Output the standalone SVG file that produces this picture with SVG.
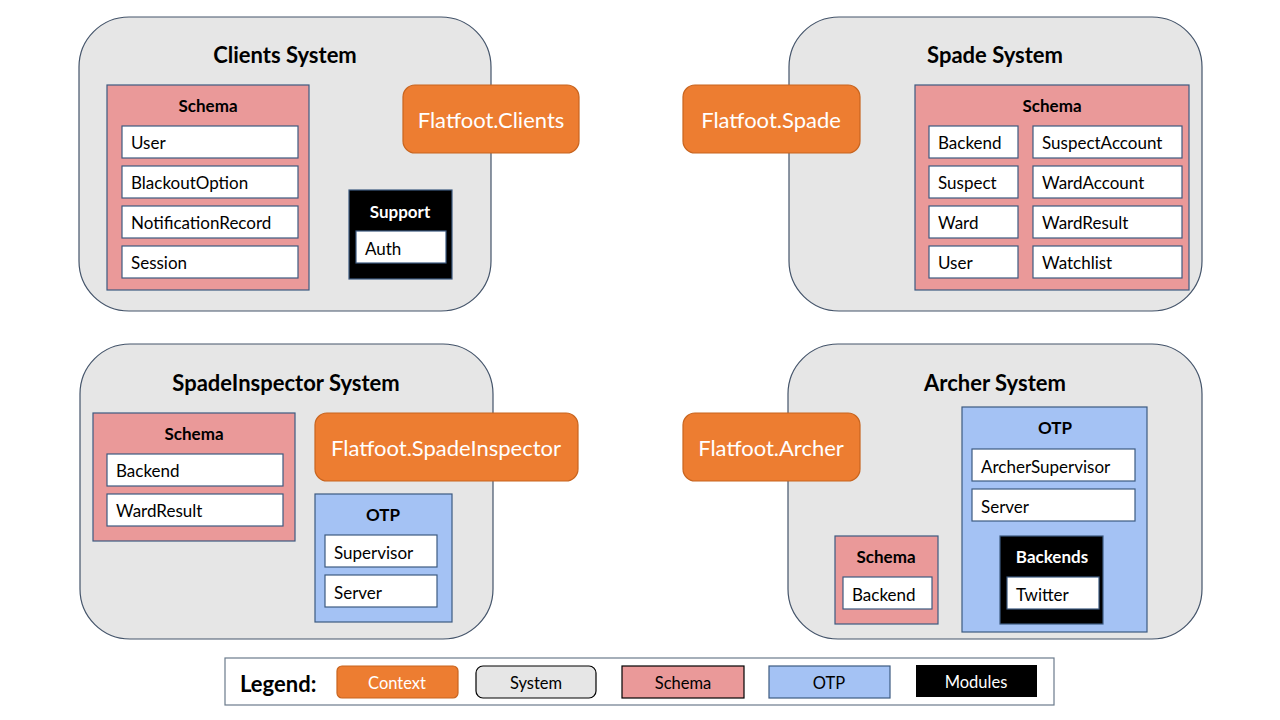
<svg xmlns="http://www.w3.org/2000/svg" width="1280" height="720" viewBox="0 0 1280 720">
<style>
text{font-family:Lato,"Open Sans","Liberation Sans",sans-serif;fill:#000}
.sys{fill:#e6e6e6;stroke:#44546a;stroke-width:1.2}
.ctx{fill:#ed7d31;stroke:#c8641e;stroke-width:1.2}
.sch{fill:#ea9999;stroke:#3d5a80;stroke-width:1.2}
.otp{fill:#a4c2f4;stroke:#3d5a80;stroke-width:1.2}
.mod{fill:#000;stroke:#3d5a80;stroke-width:1.2}
.item{fill:#fff;stroke:#3d5a80;stroke-width:1.2}
.title{font-size:22px;font-weight:bold;text-anchor:middle}
.hdr{font-size:17px;font-weight:bold;text-anchor:middle}
.hdrw{font-size:17px;font-weight:bold;text-anchor:middle;fill:#fff}
.it{font-size:17px}
.ctxt{font-size:22px;fill:#fff;text-anchor:middle}
.lg{font-size:16.5px;text-anchor:middle}
</style>
<rect width="1280" height="720" fill="#fff"/>

<g id="clients-system">
<rect class="sys" x="79" y="17" width="412" height="294" rx="50"/>
<text class="title" x="285" y="63">Clients System</text>
<g id="clients-schema">
<rect class="sch" x="107" y="85" width="202" height="205"/>
<text class="hdr" x="208" y="112">Schema</text>
<rect class="item" x="122" y="126" width="176" height="32"/><text class="it" x="131" y="149">User</text>
<rect class="item" x="122" y="166" width="176" height="32"/><text class="it" x="131" y="189">BlackoutOption</text>
<rect class="item" x="122" y="206" width="176" height="32"/><text class="it" x="131" y="229">NotificationRecord</text>
<rect class="item" x="122" y="246" width="176" height="32"/><text class="it" x="131" y="269">Session</text>
</g>
<g id="clients-support">
<rect class="mod" x="349" y="190" width="103" height="89"/>
<text class="hdrw" x="400" y="218">Support</text>
<rect class="item" x="356" y="231" width="90" height="32"/><text class="it" x="365" y="255">Auth</text>
</g>
</g>
<g id="flatfoot-clients">
<rect class="ctx" x="403" y="85" width="176" height="68" rx="12"/>
<text class="ctxt" x="491" y="128">Flatfoot.Clients</text>
</g>

<g id="spade-system">
<rect class="sys" x="789" y="17" width="413" height="294" rx="50"/>
<text class="title" x="995" y="63">Spade System</text>
<g id="spade-schema">
<rect class="sch" x="915" y="85" width="274" height="205"/>
<text class="hdr" x="1052" y="112">Schema</text>
<rect class="item" x="929" y="126" width="89" height="32"/><text class="it" x="938" y="149">Backend</text>
<rect class="item" x="929" y="166" width="89" height="32"/><text class="it" x="938" y="189">Suspect</text>
<rect class="item" x="929" y="206" width="89" height="32"/><text class="it" x="938" y="229">Ward</text>
<rect class="item" x="929" y="246" width="89" height="32"/><text class="it" x="938" y="269">User</text>
<rect class="item" x="1033" y="126" width="149" height="32"/><text class="it" x="1042" y="149">SuspectAccount</text>
<rect class="item" x="1033" y="166" width="149" height="32"/><text class="it" x="1042" y="189">WardAccount</text>
<rect class="item" x="1033" y="206" width="149" height="32"/><text class="it" x="1042" y="229">WardResult</text>
<rect class="item" x="1033" y="246" width="149" height="32"/><text class="it" x="1042" y="269">Watchlist</text>
</g>
</g>
<g id="flatfoot-spade">
<rect class="ctx" x="683" y="85" width="177" height="68" rx="12"/>
<text class="ctxt" x="771" y="128">Flatfoot.Spade</text>
</g>

<g id="spadeinspector-system">
<rect class="sys" x="80" y="344" width="413" height="295" rx="50"/>
<text class="title" x="286" y="391">SpadeInspector System</text>
<g id="spadeinspector-schema">
<rect class="sch" x="93" y="413" width="202" height="128"/>
<text class="hdr" x="194" y="440">Schema</text>
<rect class="item" x="107" y="454" width="176" height="32"/><text class="it" x="116" y="477">Backend</text>
<rect class="item" x="107" y="494" width="176" height="32"/><text class="it" x="116" y="517">WardResult</text>
</g>
<g id="spadeinspector-otp">
<rect class="otp" x="315" y="494" width="137" height="128"/>
<text class="hdr" x="383" y="521">OTP</text>
<rect class="item" x="325" y="535" width="112" height="32"/><text class="it" x="334" y="559">Supervisor</text>
<rect class="item" x="325" y="575" width="112" height="32"/><text class="it" x="334" y="599">Server</text>
</g>
</g>
<g id="flatfoot-spadeinspector">
<rect class="ctx" x="315" y="413" width="263" height="68" rx="12"/>
<text class="ctxt" x="446" y="456">Flatfoot.SpadeInspector</text>
</g>

<g id="archer-system">
<rect class="sys" x="788" y="344" width="414" height="295" rx="50"/>
<text class="title" x="995" y="391">Archer System</text>
<g id="archer-otp">
<rect class="otp" x="962" y="407" width="185" height="225"/>
<text class="hdr" x="1055" y="434">OTP</text>
<rect class="item" x="972" y="449" width="163" height="32"/><text class="it" x="981" y="473">ArcherSupervisor</text>
<rect class="item" x="972" y="489" width="163" height="32"/><text class="it" x="981" y="513">Server</text>
<g id="archer-backends">
<rect class="mod" x="1000" y="536" width="103" height="88"/>
<text class="hdrw" x="1052" y="563">Backends</text>
<rect class="item" x="1007" y="577" width="92" height="32"/><text class="it" x="1016" y="601">Twitter</text>
</g>
</g>
<g id="archer-schema">
<rect class="sch" x="835" y="536" width="103" height="88"/>
<text class="hdr" x="886" y="563">Schema</text>
<rect class="item" x="843" y="577" width="89" height="32"/><text class="it" x="852" y="601">Backend</text>
</g>
</g>
<g id="flatfoot-archer">
<rect class="ctx" x="683" y="413" width="177" height="68" rx="12"/>
<text class="ctxt" x="771" y="456">Flatfoot.Archer</text>
</g>

<g id="legend">
<rect x="225" y="658" width="829" height="47" fill="#fff" stroke="#6b7b8c" stroke-width="1.2"/>
<text x="240" y="692" font-size="22" font-weight="bold">Legend:</text>
<rect class="ctx" x="337" y="666" width="121" height="32" rx="5"/>
<text class="lg" x="397" y="689" style="fill:#fff">Context</text>
<rect x="476" y="666" width="120" height="32" rx="7" fill="#e6e6e6" stroke="#000" stroke-width="1.2"/>
<text class="lg" x="536" y="689">System</text>
<rect x="622" y="666" width="122" height="32" fill="#ea9999" stroke="#000" stroke-width="1.2"/>
<text class="lg" x="683" y="689">Schema</text>
<rect x="769" y="666" width="121" height="32" fill="#a4c2f4" stroke="#3d5a80" stroke-width="1.2"/>
<text class="lg" x="829" y="689">OTP</text>
<rect x="916" y="665" width="121" height="32" fill="#000"/>
<text class="lg" x="976" y="688" style="fill:#fff">Modules</text>
</g>
</svg>
